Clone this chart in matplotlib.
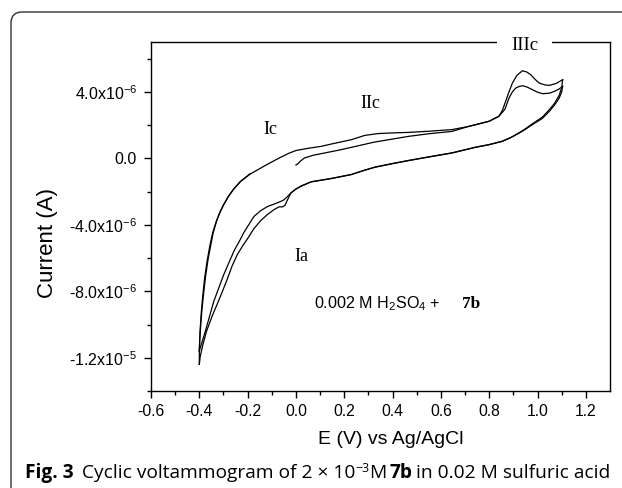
import numpy as np
import matplotlib.pyplot as plt
from matplotlib.patches import FancyBboxPatch
from matplotlib.transforms import IdentityTransform

plt.rcParams['font.family'] = ['Liberation Sans', 'DejaVu Sans']
plt.rcParams['mathtext.fontset'] = 'custom'
plt.rcParams['mathtext.rm'] = 'Liberation Sans'
plt.rcParams['mathtext.it'] = 'Liberation Sans:italic'
plt.rcParams['mathtext.bf'] = 'Liberation Sans:bold'
plt.rcParams['axes.unicode_minus'] = False

# sweep 1: start at 0 V, forward to 1.1 V (current in uA)
e1 = [0.0, 0.007, 0.02, 0.035, 0.07, 0.118, 0.18, 0.229, 0.28, 0.326, 0.40, 0.465,
      0.55, 0.646, 0.715, 0.80, 0.84, 0.865, 0.882, 0.896, 0.910, 0.925, 0.9375,
      0.955, 0.979, 1.0, 1.021, 1.05, 1.076, 1.09, 1.104]
i1 = [-0.40, -0.34, -0.15, 0.02, 0.18, 0.32, 0.50, 0.66, 0.83, 0.98, 1.16, 1.32,
      1.48, 1.62, 1.92, 2.23, 2.53, 2.95, 3.63, 4.0, 4.23, 4.33, 4.37,
      4.30, 4.13, 3.98, 3.89, 3.92, 4.07, 4.18, 4.33]
# sweep 2: reverse 1.1 V -> -0.4 V
e2 = [1.104, 1.10, 1.09, 1.07, 1.049, 1.02, 0.979, 0.95, 0.924, 0.89, 0.854, 0.80,
      0.743, 0.646, 0.55, 0.465, 0.40, 0.326, 0.28, 0.229, 0.146, 0.0625, 0.021,
      0.0, -0.021, -0.035, -0.045, -0.055, -0.07, -0.09, -0.118, -0.146, -0.175,
      -0.201, -0.22, -0.243, -0.265, -0.285, -0.3125, -0.347, -0.37, -0.385,
      -0.396, -0.40]
i2 = [4.33, 4.0, 3.63, 3.2, 2.83, 2.4, 2.03, 1.75, 1.52, 1.25, 1.02, 0.82,
      0.66, 0.32, 0.08, -0.14, -0.32, -0.54, -0.74, -0.98, -1.22, -1.42, -1.68,
      -1.85, -2.09, -2.5, -2.82, -2.92, -2.92, -3.08, -3.38, -3.75, -4.25,
      -4.85, -5.25, -5.8, -6.5, -7.3, -8.3, -9.5, -10.4, -11.2,
      -11.9, -12.4]
# sweep 3: forward -0.4 V -> 1.1 V
e3 = [-0.40, -0.40, -0.397, -0.392, -0.386, -0.378, -0.368, -0.357, -0.345, -0.33,
      -0.315, -0.30, -0.28, -0.258, -0.23, -0.19, -0.15, -0.118, -0.09, -0.0625,
      -0.03, 0.0, 0.049, 0.104, 0.146, 0.229, 0.285, 0.34, 0.40, 0.465, 0.55,
      0.646, 0.715, 0.799, 0.84, 0.855, 0.868, 0.882, 0.896, 0.915, 0.9375, 0.955,
      0.972, 0.99, 1.007, 1.03, 1.049, 1.076, 1.104]
i3 = [-12.4, -11.5, -10.4, -9.3, -8.3, -7.2, -6.2, -5.3, -4.5, -3.8,
      -3.25, -2.8, -2.3, -1.85, -1.4, -0.95, -0.62, -0.36, -0.14, 0.07,
      0.3, 0.47, 0.60, 0.72, 0.86, 1.12, 1.38, 1.49, 1.53, 1.56, 1.63,
      1.73, 1.92, 2.23, 2.53, 2.9, 3.43, 4.0, 4.53, 5.0, 5.27, 5.2,
      5.03, 4.75, 4.53, 4.42, 4.39, 4.5, 4.73]
# sweep 4: reverse 1.1 V -> -0.4 V
e4 = [1.104, 1.10, 1.09, 1.07, 1.049, 1.02, 0.979, 0.95, 0.924, 0.89, 0.854, 0.80,
      0.743, 0.646, 0.55, 0.465, 0.40, 0.326, 0.28, 0.229, 0.146, 0.0625, 0.021,
      0.0, -0.021, -0.035, -0.05, -0.0625, -0.09, -0.118, -0.146, -0.174, -0.20,
      -0.215, -0.231, -0.257, -0.299, -0.34, -0.375, -0.396, -0.40]
i4 = [4.73, 4.25, 3.8, 3.3, 2.93, 2.48, 2.08, 1.78, 1.54, 1.26, 1.03, 0.83,
      0.67, 0.33, 0.09, -0.13, -0.31, -0.53, -0.73, -0.97, -1.21, -1.41, -1.67,
      -1.84, -2.08, -2.3, -2.5, -2.59, -2.75, -2.9, -3.15, -3.5, -4.1,
      -4.45, -4.9, -5.59, -7.0, -8.6, -10.4, -11.4, -11.6]
# sweep 5: forward again from -0.4 V
e5 = [-0.40, -0.398, -0.394, -0.389, -0.382, -0.374, -0.364, -0.353, -0.342, -0.328,
      -0.313, -0.298, -0.278, -0.256, -0.228, -0.19]
i5 = [-11.6, -10.9, -10.0, -9.1, -8.1, -7.1, -6.1, -5.25, -4.45, -3.75,
      -3.2, -2.76, -2.26, -1.82, -1.37, -0.93]

sweeps = [(e1, i1), (e2, i2), (e3, i3), (e4, i4), (e5, i5)]

xticks = [-0.6, -0.4, -0.2, 0.0, 0.2, 0.4, 0.6, 0.8, 1.0, 1.2]
xticklabels = ['-0.6', '-0.4', '-0.2', '0.0', '0.2', '0.4', '0.6', '0.8', '1.0', '1.2']
yticks = [-1.2e-5, -8e-6, -4e-6, 0.0, 4e-6]
yticklabels = ['-1.2x10$^{-5}$', '-8.0x10$^{-6}$', '-4.0x10$^{-6}$', '0.0', '4.0x10$^{-6}$']

W, H = 622, 488
fig = plt.figure(figsize=(W / 100, H / 100), dpi=100)
ax = fig.add_axes([151 / W, (H - 391) / H, (610 - 151) / W, (391 - 42) / H])

for e, i in sweeps:
    ax.plot(e, np.array(i) * 1e-6, color='black', lw=0.9)

ax.set_xlim(-0.6, 1.3)
ax.set_ylim(-1.4e-5, 7e-6)
ax.set_xticks(xticks)
ax.set_xticklabels(xticklabels)
ax.set_xticks(np.arange(-0.5, 1.3, 0.2), minor=True)
ax.set_yticks(yticks)
ax.set_yticklabels(yticklabels)
ax.set_yticks([-1.4e-5, -1e-5, -6e-6, -2e-6, 2e-6, 6e-6], minor=True)
ax.tick_params(which='both', direction='out', width=1, top=False, right=False)
ax.tick_params(which='major', length=5)
ax.tick_params(which='minor', length=3)
ax.tick_params(axis='x', labelsize=11.3, pad=4)
ax.tick_params(axis='y', labelsize=11.5, pad=5)
for s in ax.spines.values():
    s.set_linewidth(1.0)

serif = ['Liberation Serif', 'DejaVu Serif']
ax.text(-0.106, 1.76e-6, 'Ic', family=serif, fontsize=13, ha='center', va='center')
ax.text(0.308, 3.32e-6, 'IIc', family=serif, fontsize=13, ha='center', va='center')
ax.text(0.022, -5.92e-6, 'Ia', family=serif, fontsize=13, ha='center', va='center')
ax.text(0.946, 6.5e-6, 'IIIc', family=serif, fontsize=13.5, ha='center', va='baseline',
        zorder=5, clip_on=False,
        bbox=dict(boxstyle='square,pad=0.75', fc='white', ec='none'))
ax.text(0.075, -9.0e-6, '0.002 M H$_2$SO$_4$ +', fontsize=11.6, ha='left', va='baseline')
ax.text(0.687, -9.0e-6, '7b', family=serif, fontsize=12.5, weight='bold', ha='left', va='baseline')

fig.text(47 / W, 1 - 243 / H, 'Current (A)', rotation=90, fontsize=16, ha='center', va='center')
fig.text(391 / W, 1 - 440 / H, 'E (V) vs Ag/AgCl', fontsize=14, ha='center', va='center')

# frame around the figure
frame = FancyBboxPatch((11, -30), 720, H - 12 + 30, boxstyle='round,pad=0,rounding_size=11',
                       transform=IdentityTransform(), fc='none', ec='#333333', lw=1.0)
fig.patches.append(frame)

# caption, drawn piece by piece
cap = ['Open Sans', 'DejaVu Sans']
r = fig.canvas.get_renderer()
px = 25
base = H - 478
pieces = [('Fig. 3', 'bold', 13.8, 0, 8), ('Cyclic voltammogram of 2 \u00d7 10', 'normal', 13.8, 0, 0),
          ('\u22123', 'normal', 9, 6.5, 0), ('M', 'normal', 13.8, 0, 3), ('7b', 'bold', 13.8, 0, 4),
          ('in 0.02 M sulfuric acid', 'normal', 13.8, 0, 0)]
for s, wt, fs, dy, gap in pieces:
    t = fig.text(px, base + dy, s, transform=IdentityTransform(), family=cap,
                 weight=wt, fontsize=fs, ha='left', va='baseline')
    px = t.get_window_extent(r).x1 + gap

fig.savefig('out.png', dpi=100)
